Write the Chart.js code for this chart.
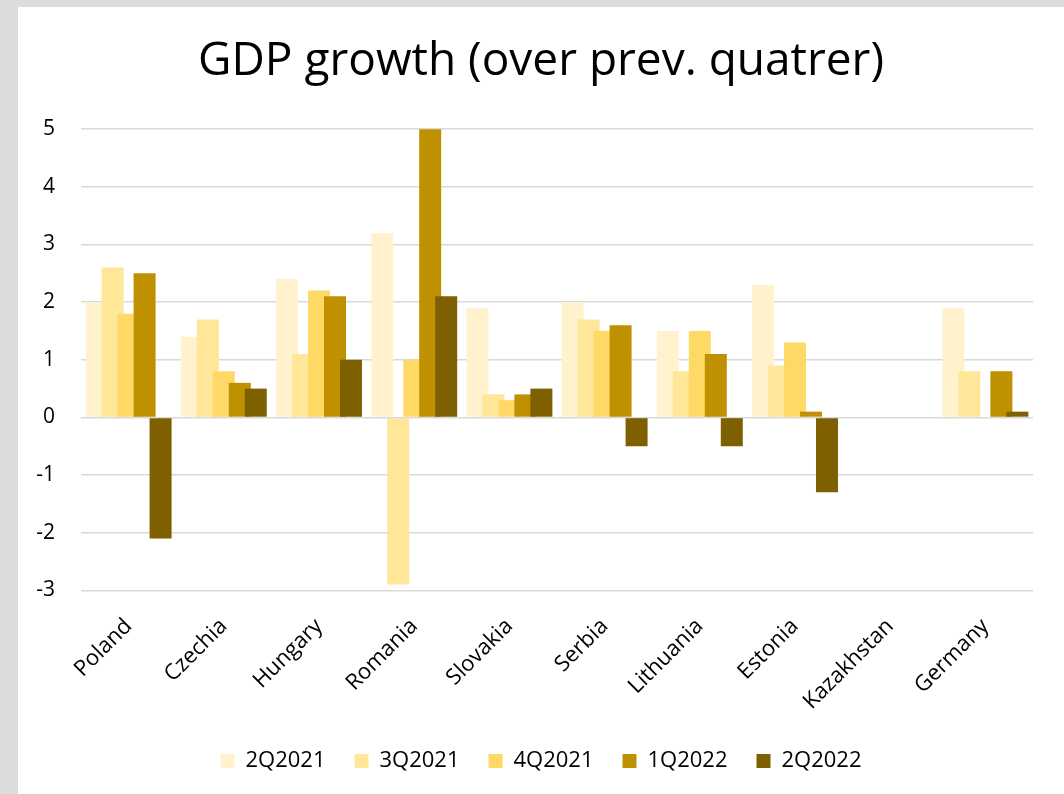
<!DOCTYPE html>
<html>
<head>
<meta charset="utf-8">
<script src="https://cdn.jsdelivr.net/npm/chart.js@4"></script>
<style>
  body { margin: 0; background: #dcdcdc; }
  #wrap { position: absolute; left: 18px; top: 7px; width: 1046px; height: 787px; background: #fff; }
</style>
</head>
<body>
<div id="wrap"><canvas id="gdpChart"></canvas></div>
<script>
// GDP growth, q/q %
const countries = ['Poland', 'Czechia', 'Hungary', 'Romania', 'Slovakia', 'Serbia', 'Lithuania', 'Estonia', 'Kazakhstan', 'Germany'];
const q2_2021 = [2.0, 1.4, 2.4, 3.2, 1.9, 2.0, 1.5, 2.3, null, 1.9];
const q3_2021 = [2.6, 1.7, 1.1, -2.9, 0.4, 1.7, 0.8, 0.9, null, 0.8];
const q4_2021 = [1.8, 0.8, 2.2, 1.0, 0.3, 1.5, 1.5, 1.3, null, 0];
const q1_2022 = [2.5, 0.6, 2.1, 5.0, 0.4, 1.6, 1.1, 0.1, null, 0.8];
const q2_2022 = [-2.1, 0.5, 1.0, 2.1, 0.5, -0.5, -0.5, -1.3, null, 0.1];
const seriesNames = ['2Q2021', '3Q2021', '4Q2021', '1Q2022', '2Q2022'];
const seriesColors = ['#FFF2CC', '#FFE699', '#FFD966', '#BF9000', '#7F6000'];

Chart.defaults.font.family = "'Open Sans', sans-serif";
Chart.defaults.color = '#000';

// excel draws the later quarter over the earlier one
const drawInOrder = {
    id: 'drawInOrder',
    beforeDatasetsDraw(chart) {
        chart.data.datasets.forEach((ds, i) => {
            const meta = chart.getDatasetMeta(i);
            if (chart.isDatasetVisible(i)) meta.controller.draw();
        });
        return false;
    }
};

const allSeries = [q2_2021, q3_2021, q4_2021, q1_2022, q2_2022];

const ctx = document.getElementById('gdpChart').getContext('2d');
const gdpChart = new Chart(ctx, {
    type: 'bar',
    data: {
        labels: countries,
        datasets: allSeries.map((vals, i) => ({
            label: seriesNames[i],
            data: vals,
            backgroundColor: seriesColors[i],
            borderWidth: 0,
            categoryPercentage: 0.84,
            barPercentage: 1.375
        }))
    },
    options: {
        responsive: true,
        maintainAspectRatio: false,
        animation: false,
        layout: {
            padding: { left: 0, right: 0, top: 0, bottom: 12 }
        },
        scales: {
            x: {
                afterFit(scale) { scale.height -= 9; },
                grid: { display: false },
                border: { display: false },
                ticks: {
                    font: { size: 22 },
                    minRotation: 45,
                    maxRotation: 45,
                    padding: 15
                }
            },
            y: {
                min: -3,
                max: 5,
                afterFit(scale) { scale.width = 63; },
                border: { display: false },
                grid: { color: '#d9d9d9', lineWidth: 1.5, drawTicks: false },
                ticks: {
                    stepSize: 1,
                    font: { size: 21 },
                    padding: 26
                }
            },
            // empty right margin, keeps title and legend centred on the canvas
            yRight: {
                position: 'right',
                afterFit(scale) { scale.width = 31; },
                grid: { display: false },
                border: { display: false },
                ticks: { display: false }
            }
        },
        plugins: {
            title: {
                display: true,
                text: 'GDP growth (over prev. quatrer)',
                font: { size: 46, weight: 'normal' },
                padding: { top: 27, bottom: 40 }
            },
            legend: {
                position: 'bottom',
                labels: {
                    font: { size: 22 },
                    boxWidth: 14,
                    boxHeight: 14,
                    padding: 29
                }
            },
            tooltip: { enabled: false }
        }
    },
    plugins: [drawInOrder]
});
</script>
</body>
</html>
